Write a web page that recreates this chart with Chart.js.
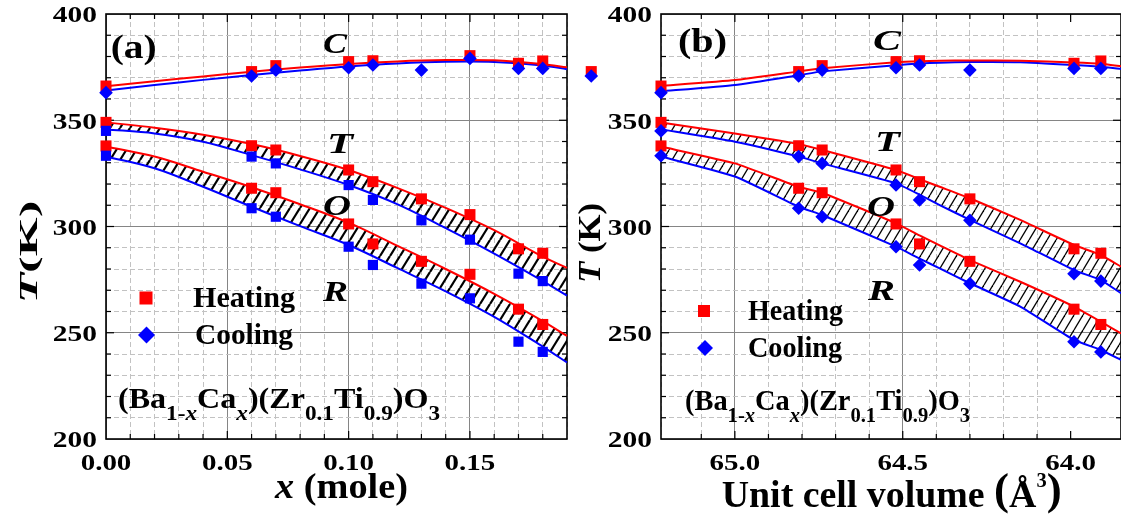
<!DOCTYPE html>
<html><head><meta charset="utf-8">
<script src="https://cdn.jsdelivr.net/npm/chart.js@4.4.1/dist/chart.umd.min.js"></script>
<style>
html,body{margin:0;padding:0;background:#fff;overflow:hidden;width:1121px;height:520px}
#ca{position:absolute;left:0;top:0}
#cb{position:absolute;left:570px;top:0}
</style></head><body>
<canvas id="ca" width="610" height="520"></canvas>
<canvas id="cb" width="551" height="520"></canvas>
<script>
// ---------------- data ----------------
const xMole  = [0, 0.06, 0.07, 0.10, 0.11, 0.13, 0.15, 0.17, 0.18, 0.20];
const volume = [65.22, 64.81, 64.74, 64.52, 64.45, 64.30, null, 63.99, 63.91, null];
const cHeat = [366.1, 372.9, 375.7, 377.6, 378.0, null, 380.4, 376.8, 377.9, 372.9];
const cCool = [363.0, 370.8, 373.6, 374.7, 376.0, 373.6, 379.1, 374.4, 374.4, 370.8];
const tHeat = [349.0, 338.0, 336.0, 326.6, 321.1, 313.0, 305.6, 289.5, 287.4];
const tCool = [345.0, 332.9, 329.7, 319.5, 312.5, 302.9, 293.8, 277.8, 274.3];
const rHeat = [337.9, 318.0, 315.9, 301.2, 291.8, 283.6, 277.5, 261.1, 253.9];
const rCool = [333.3, 308.6, 304.6, 290.5, 281.9, 273.1, 266.2, 245.8, 241.0];

// fitted curves
const fitX      = [0, 0.02, 0.04, 0.06, 0.08, 0.10, 0.12, 0.14, 0.16, 0.18, 0.19];
const cHeatFitA = [366.0, 368.4, 370.6, 372.8, 374.8, 376.5, 377.7, 378.3, 378.2, 376.4, 374.9];
const cCoolFitA = [364.0, 366.6, 369.0, 371.3, 373.4, 375.3, 376.7, 377.5, 377.4, 375.8, 374.0];
const tHeatFitA = [349.0, 346.5, 343.2, 338.8, 333.2, 326.6, 318.2, 308.8, 298.3, 285.8, 280.5];
const tCoolFitA = [345.7, 343.8, 339.9, 333.6, 326.9, 319.5, 310.5, 299.2, 287.2, 274.3, 267.5];
const rHeatFitA = [337.6, 332.9, 325.8, 318.5, 310.5, 301.8, 291.0, 280.0, 268.3, 255.5, 248.5];
const rCoolFitA = [332.9, 327.4, 318.7, 309.3, 300.2, 291.3, 280.5, 269.5, 257.5, 243.5, 236.0];

// fitted curves
const fitV      = [65.22, 65.0, 64.81, 64.74, 64.52, 64.45, 64.39, 64.30, 64.15, 63.99, 63.91, 63.85];
const cHeatFitB = [366.1, 368.9, 373.0, 374.5, 377.3, 377.8, 378.0, 378.1, 378.0, 377.2, 376.6, 375.4];
const cCoolFitB = [363.6, 366.6, 371.2, 373.0, 375.9, 376.7, 377.1, 377.4, 377.3, 376.0, 375.2, 374.2];
const tHeatFitB = [348.9, 343.8, 338.8, 336.0, 326.6, 322.3, 318.7, 313.3, 303.1, 291.3, 286.6, 281.1];
const tCoolFitB = [345.7, 339.9, 332.9, 329.7, 320.3, 315.0, 310.1, 303.1, 292.1, 279.5, 274.8, 268.6];
const rHeatFitB = [337.6, 329.7, 318.7, 315.9, 301.5, 295.8, 291.1, 284.2, 274.0, 262.3, 255.2, 249.7];
const rCoolFitB = [332.9, 323.5, 309.3, 305.4, 290.5, 284.9, 280.3, 273.3, 262.3, 246.6, 241.9, 237.2];

// tick labels
const xTicksA = [0, 0.05, 0.10, 0.15];
const xTicksB = [65.0, 64.5, 64.0];
const yTicks  = [200, 250, 300, 350, 400];
const seriesNames = ['Heating', 'Cooling'];

// ---------------- helpers ----------------
const SERIF = '"Liberation Serif","Times New Roman",serif';
const RED = '#ff0000', BLUE = '#0000ff';

function pts(xs, ys) {
  const out = [];
  for (let i = 0; i < ys.length; i++) {
    if (xs[i] != null && ys[i] != null) out.push({x: xs[i], y: ys[i]});
  }
  return out;
}
function isMult(v, s) { return Math.abs(v / s - Math.round(v / s)) < 1e-6; }

function hatch(lw, w, h) {
  const c = document.createElement('canvas');
  c.width = w; c.height = h;
  const g = c.getContext('2d');
  g.strokeStyle = '#000'; g.lineWidth = lw; g.lineCap = 'butt';
  [[0, h, w, 0], [-w, h, 0, 0], [w, h, 2 * w, 0]].forEach(l => {
    g.beginPath(); g.moveTo(l[0], l[1]); g.lineTo(l[2], l[3]); g.stroke();
  });
  return c.getContext('2d').createPattern(c, 'repeat');
}

function drawRich(ctx, segs, x, y, o) {
  ctx.save();
  let w = 0;
  segs.forEach(s => { ctx.font = s.font; s.w = ctx.measureText(s.t).width; w += s.w; });
  const sx = o.width ? o.width / w : (o.sx || 1);
  ctx.translate(x, y);
  if (o.rotate) ctx.rotate(o.rotate);
  ctx.scale(sx, 1);
  let p = o.align === 'center' ? -w / 2 : (o.align === 'right' ? -w : 0);
  ctx.textAlign = 'left'; ctx.textBaseline = 'alphabetic'; ctx.fillStyle = o.color || '#000';
  segs.forEach(s => { ctx.font = s.font; ctx.fillText(s.t, p, s.dy || 0); p += s.w; });
  ctx.restore();
}

function shape(ctx, style, r, x, y, color) {
  ctx.fillStyle = color;
  ctx.beginPath();
  if (style === 'rect') {
    const s = Math.SQRT1_2 * r;
    ctx.rect(x - s, y - s, 2 * s, 2 * s);
  } else {
    ctx.moveTo(x - r, y); ctx.lineTo(x, y - r); ctx.lineTo(x + r, y); ctx.lineTo(x, y + r); ctx.closePath();
  }
  ctx.fill();
}

function makeScales(xmin, xmax, xMinor, xMajor, reverse) {
  const minorCol = s => c => (c.tick && !isMult(c.tick.value, s)) ? '#c2c2c2' : 'rgba(0,0,0,0)';
  const majorCol = s => c => (c.tick && isMult(c.tick.value, s)) ? '#858585' : 'rgba(0,0,0,0)';
  const tk = step => ({display: false, stepSize: step, autoSkip: false, maxTicksLimit: 1000});
  return {
    x:  {type: 'linear', position: 'bottom', min: xmin, max: xmax, reverse, ticks: tk(xMinor),
         grid: {drawTicks: false, color: minorCol(xMajor), lineWidth: 1}, border: {display: false, dash: [5, 3]}},
    x2: {type: 'linear', axis: 'x', position: 'bottom', min: xmin, max: xmax, reverse, ticks: tk(xMajor),
         grid: {drawTicks: false, color: majorCol(xMajor), lineWidth: 1}, border: {display: false}},
    y:  {type: 'linear', position: 'left', min: 200, max: 400, ticks: tk(10),
         grid: {drawTicks: false, color: minorCol(50), lineWidth: 1}, border: {display: false, dash: [5, 3]}},
    y2: {type: 'linear', axis: 'y', position: 'left', min: 200, max: 400, ticks: tk(50),
         grid: {drawTicks: false, color: majorCol(50), lineWidth: 1}, border: {display: false}}
  };
}

function lineDs(data, color, tension, fill, pattern) {
  return {data, borderColor: color, borderWidth: 2, pointRadius: 0, tension,
          fill: fill || false, backgroundColor: pattern || 'rgba(0,0,0,0)', order: 1, clip: 8};
}
function ptDs(data, color, style, r) {
  return {data, showLine: false, pointStyle: style, pointRadius: r, pointHoverRadius: r,
          pointBackgroundColor: color, pointBorderColor: color, pointBorderWidth: 0,
          borderColor: color, backgroundColor: color, order: 0, clip: false};
}

function deco(P) {
  return {
    id: 'deco' + P.name,
    beforeDatasetsDraw(chart) {
      const ctx = chart.ctx, ca = chart.chartArea, sx = chart.scales.x, sy = chart.scales.y;
      ctx.save();
      ctx.strokeStyle = '#000';
      ctx.lineWidth = 1.2;
      const seg = (a, b, c, d) => { ctx.beginPath(); ctx.moveTo(a, b); ctx.lineTo(c, d); ctx.stroke(); };
      sx.ticks.forEach(t => {
        const px = sx.getPixelForValue(t.value);
        if (px < ca.left + 1 || px > ca.right - 1) return;
        const L = isMult(t.value, P.xMajor) ? 8 : 5;
        seg(px, ca.bottom, px, ca.bottom - L); seg(px, ca.top, px, ca.top + L);
      });
      sy.ticks.forEach(t => {
        const py = sy.getPixelForValue(t.value);
        if (py < ca.top + 1 || py > ca.bottom - 1) return;
        const L = isMult(t.value, 50) ? 8 : 5;
        seg(ca.left, py, ca.left + L, py); seg(ca.right, py, ca.right - L, py);
      });
      ctx.lineWidth = 1.6;
      ctx.strokeRect(ca.left, ca.top, ca.right - ca.left, ca.bottom - ca.top);
      ctx.restore();
    },
    afterDatasetsDraw(chart) {
      // markers that lie beyond the plot frame (the library skips them): draw at the library's computed positions
      const ctx = chart.ctx, ca = chart.chartArea;
      ctx.save();
      const metas = chart.getSortedVisibleDatasetMetas();
      for (let m = metas.length - 1; m >= 0; m--) {
        const meta = metas[m], ds = chart.data.datasets[meta.index];
        if (ds.showLine !== false) continue;
        meta.data.forEach(el => {
          if (el.skip || isNaN(el.x) || isNaN(el.y)) return;
          const r = ds.pointRadius;
          if (el.x < ca.left - r || el.x > ca.right + r) shape(ctx, ds.pointStyle, r, el.x, el.y, ds.pointBackgroundColor);
        });
      }
      ctx.restore();
    },
    afterDraw(chart) {
      const ctx = chart.ctx, ca = chart.chartArea, ox = P.ox;
      const tf = 'bold 23px ' + SERIF;
      P.xTicks.forEach(v => {
        drawRich(ctx, [{t: v.toFixed(P.xDigits), font: tf}], chart.scales.x.getPixelForValue(v), 470, {align: 'center', sx: 1.26});
      });
      yTicks.forEach(v => {
        drawRich(ctx, [{t: String(v), font: tf}], ca.left - 9, chart.scales.y.getPixelForValue(v) + 8.3, {align: 'right', sx: 1.28});
      });
      P.texts.forEach(T => drawRich(ctx, T.segs, T.x - ox, T.y, T));
      ctx.save();
      const L = P.legend;
      ctx.fillStyle = RED;
      ctx.fillRect(L.sq[0] - ox - L.sq[2] / 2, L.sq[1] - L.sq[2] / 2, L.sq[2], L.sq[2]);
      shape(ctx, 'rectRot', L.di[2], L.di[0] - ox, L.di[1], BLUE);
      ctx.restore();
    }
  };
}

const F = {
  lab: 'bold 33px ' + SERIF,
  ph: 'italic bold 30px ' + SERIF,
  leg: 'bold 29px ' + SERIF,
  fm: 'bold 29px ' + SERIF, fs: 'bold 21px ' + SERIF, fsi: 'italic bold 21px ' + SERIF
};
function formula(x, y, width) {
  return {segs: [
    {t: '(Ba', font: F.fm}, {t: '1-', font: F.fs, dy: 12}, {t: 'x', font: F.fsi, dy: 12},
    {t: 'Ca', font: F.fm}, {t: 'x', font: F.fsi, dy: 12}, {t: ')(Zr', font: F.fm},
    {t: '0.1', font: F.fs, dy: 12}, {t: 'Ti', font: F.fm}, {t: '0.9', font: F.fs, dy: 12},
    {t: ')O', font: F.fm}, {t: '3', font: F.fs, dy: 12}], x, y, align: 'left', width};
}
const baseOpts = (pad, xmin, xmax, xMinor, xMajor, rev) => ({
  responsive: false, animation: false, events: [],
  layout: {padding: pad, autoPadding: false},
  plugins: {legend: {display: false}, tooltip: {enabled: false}, filler: {drawTime: 'beforeDatasetsDraw'}},
  scales: makeScales(xmin, xmax, xMinor, xMajor, rev)
});

// ---------------- panel (a) ----------------
new Chart(document.getElementById('ca'), {
  type: 'line',
  data: {datasets: [
    ptDs(pts(xMole, cCool), BLUE, 'rectRot', 6.8),
    ptDs(pts(xMole, tCool), BLUE, 'rect', 7.2),
    ptDs(pts(xMole, rCool), BLUE, 'rect', 7.2),
    ptDs(pts(xMole, cHeat), RED, 'rect', 7.8),
    ptDs(pts(xMole, tHeat), RED, 'rect', 7.8),
    ptDs(pts(xMole, rHeat), RED, 'rect', 7.8),
    lineDs(pts(fitX, cHeatFitA), RED, 0.35),
    lineDs(pts(fitX, cCoolFitA), BLUE, 0.35),
    lineDs(pts(fitX, tHeatFitA), RED, 0.35),
    lineDs(pts(fitX, tCoolFitA), BLUE, 0.35, '-1', hatch(2.2, 10, 16)),
    lineDs(pts(fitX, rHeatFitA), RED, 0.35),
    lineDs(pts(fitX, rCoolFitA), BLUE, 0.35, '-1', hatch(2.2, 10, 16))
  ]},
  options: baseOpts({left: 106, top: 14, right: 43, bottom: 81}, 0, 0.19, 0.01, 0.05, false),
  plugins: [deco({
    name: 'A', ox: 0, xMajor: 0.05, xTicks: xTicksA, xDigits: 2,
    legend: {sq: [146, 298, 13], di: [146.5, 335, 8.5]},
    texts: [
      {segs: [{t: '(a)', font: F.lab}], x: 110.7, y: 58, align: 'left', width: 46},
      {segs: [{t: 'C', font: F.ph}], x: 335, y: 53, align: 'center', width: 24},
      {segs: [{t: 'T', font: F.ph}], x: 340, y: 153, align: 'center', width: 26},
      {segs: [{t: 'O', font: F.ph}], x: 337, y: 215, align: 'center', width: 28},
      {segs: [{t: 'R', font: F.ph}], x: 335.5, y: 301, align: 'center', width: 25},
      {segs: [{t: seriesNames[0], font: F.leg}], x: 193, y: 307, align: 'left', width: 102},
      {segs: [{t: seriesNames[1], font: F.leg}], x: 195, y: 344, align: 'left', width: 98},
      formula(118, 408, 322),
      {segs: [{t: 'x', font: 'italic bold 36px ' + SERIF}, {t: ' (mole)', font: 'bold 36px ' + SERIF}], x: 275, y: 498, align: 'left', width: 133},
      {segs: [{t: 'T', font: 'italic bold 26px ' + SERIF}, {t: '(K)', font: 'bold 26px ' + SERIF}], x: 37, y: 252, align: 'center', width: 103, rotate: -Math.PI / 2}
    ]
  })]
});

// ---------------- panel (b) ----------------
new Chart(document.getElementById('cb'), {
  type: 'line',
  data: {datasets: [
    ptDs(pts(volume, cCool), BLUE, 'rectRot', 6.8),
    ptDs(pts(volume, tCool), BLUE, 'rectRot', 6.8),
    ptDs(pts(volume, rCool), BLUE, 'rectRot', 6.8),
    ptDs(pts(volume, cHeat), RED, 'rect', 7.8),
    ptDs(pts(volume, tHeat), RED, 'rect', 7.8),
    ptDs(pts(volume, rHeat), RED, 'rect', 7.8),
    lineDs(pts(fitV, cHeatFitB), RED, 0.15),
    lineDs(pts(fitV, cCoolFitB), BLUE, 0.15),
    lineDs(pts(fitV, tHeatFitB), RED, 0.15),
    lineDs(pts(fitV, tCoolFitB), BLUE, 0.15, '-1', hatch(1.3, 9, 15)),
    lineDs(pts(fitV, rHeatFitB), RED, 0.15),
    lineDs(pts(fitV, rCoolFitB), BLUE, 0.15, '-1', hatch(1.3, 9, 15))
  ]},
  options: baseOpts({left: 91, top: 14, right: 0, bottom: 81}, 63.85, 65.22, 0.1, 0.5, true),
  plugins: [deco({
    name: 'B', ox: 570, xMajor: 0.5, xTicks: xTicksB, xDigits: 1,
    legend: {sq: [704, 311, 12], di: [705, 348, 8]},
    texts: [
      {segs: [{t: '(b)', font: F.lab}], x: 678, y: 52, align: 'left', width: 49},
      {segs: [{t: 'C', font: F.ph}], x: 887, y: 50, align: 'center', width: 28},
      {segs: [{t: 'T', font: F.ph}], x: 887.5, y: 151, align: 'center', width: 25},
      {segs: [{t: 'O', font: F.ph}], x: 881, y: 216, align: 'center', width: 28},
      {segs: [{t: 'R', font: F.ph}], x: 881.5, y: 300, align: 'center', width: 27},
      {segs: [{t: seriesNames[0], font: F.leg}], x: 748, y: 320, align: 'left', width: 95},
      {segs: [{t: seriesNames[1], font: F.leg}], x: 748, y: 357, align: 'left', width: 94},
      formula(685, 410, 285),
      {segs: [{t: 'Unit cell volume ', font: 'bold 37px ' + SERIF}, {t: '(', font: 'bold 44px ' + SERIF, dy: -3},
              {t: 'Å', font: 'bold 37px ' + SERIF}, {t: '3', font: 'bold 20px ' + SERIF, dy: -20},
              {t: ')', font: 'bold 44px ' + SERIF, dy: -3}], x: 721.7, y: 506.7, align: 'left', width: 340},
      {segs: [{t: 'T', font: 'italic bold 32px ' + SERIF}, {t: ' (K)', font: 'bold 32px ' + SERIF}], x: 600, y: 243, align: 'center', width: 80, rotate: -Math.PI / 2}
    ]
  })]
});
</script>
</body></html>
